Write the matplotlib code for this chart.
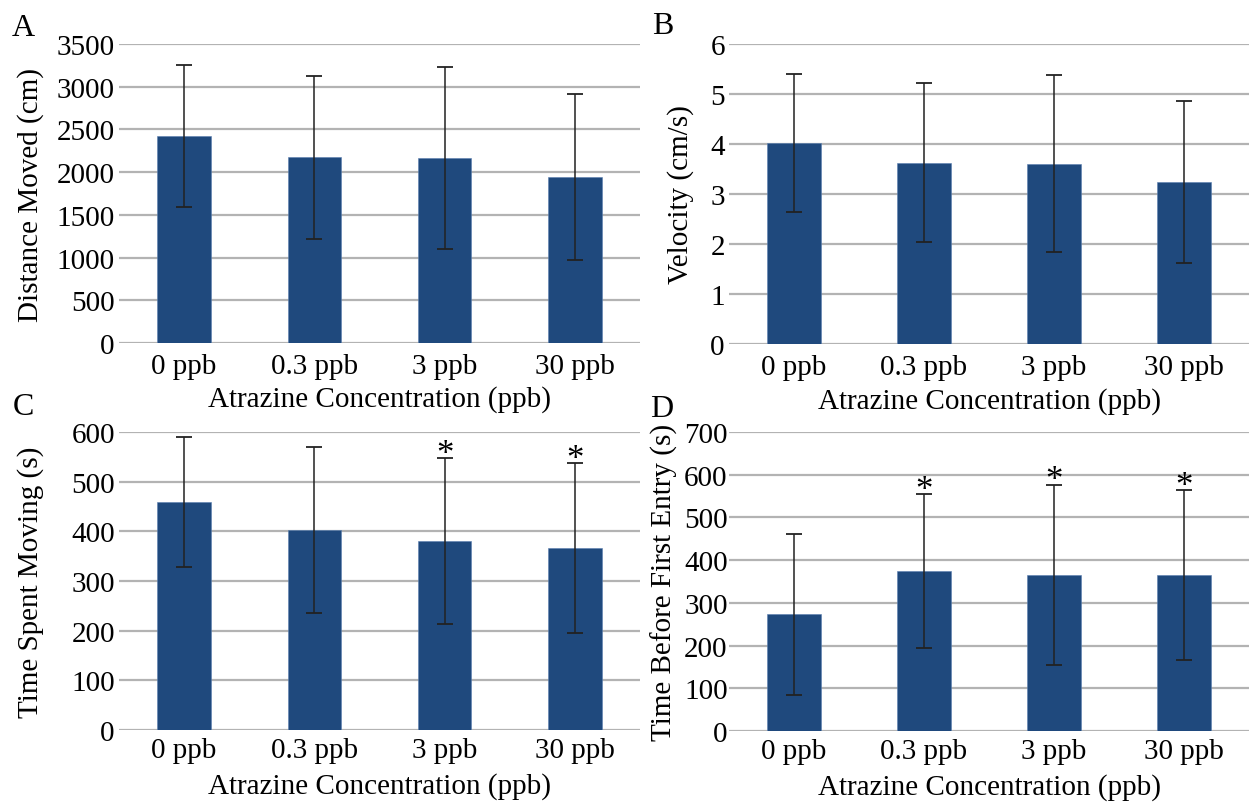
"""Four-panel bar chart of locomotor measures vs. atrazine concentration (mean ± SD)."""

import matplotlib
matplotlib.use("Agg")
import matplotlib.pyplot as plt

plt.rcParams["font.family"] = ["Liberation Serif", "DejaVu Serif"]

concentrations = ["0 ppb", "0.3 ppb", "3 ppb", "30 ppb"]

distance_mean = [2420, 2175, 2160, 1945]
distance_err = [830, 955, 1065, 975]

velocity_mean = [4.03, 3.63, 3.61, 3.25]
velocity_err = [1.38, 1.59, 1.77, 1.62]

moving_mean = [459, 403, 380, 366]
moving_err = [130, 167, 167, 171]

entry_mean = [273, 374, 366, 366]
entry_err = [189, 180, 211, 199]

# significance markers (True = asterisk above the bar)
moving_sig = [False, False, True, True]
entry_sig = [False, True, True, True]

BAR_COLOR = "#1F497D"
GRID_COLOR = "#b3b3b3"
FS = 21

W, H = 1256, 804


def px_rect(x0, y0, x1, y1):
    """Pixel box (top-left origin) -> figure-fraction rect."""
    return [x0 / W, 1 - y1 / H, (x1 - x0) / W, (y1 - y0) / H]


def bar_panel(ax, means, errs, ylabel, ymax, ystep, ylabel_x, letter, letter_xy,
              sig=None, ytick_pad=3, xtick_pad=6):
    x = range(len(concentrations))
    ax.bar(x, means, width=0.41, color=BAR_COLOR, edgecolor="#5b7fb0", linewidth=0.4, zorder=2)
    ax.errorbar(x, means, yerr=errs, fmt="none", ecolor="#222222", elinewidth=1.1,
                capsize=5.5, capthick=1.3, zorder=3)
    if sig is not None:
        for i, (m, e, s) in enumerate(zip(means, errs, sig)):
            if s:
                ax.annotate("*", xy=(i, m + e), xytext=(0, -3.5), textcoords="offset points",
                            ha="center", va="baseline", fontsize=25, zorder=4)

    ax.set_xlim(-0.5, len(concentrations) - 0.5)
    ax.set_ylim(0, ymax)
    ax.set_yticks([v * ystep for v in range(int(round(ymax / ystep)) + 1)])
    ax.set_xticks(list(x))
    ax.set_xticklabels(concentrations)
    ax.tick_params(axis="both", length=0, labelsize=FS)
    ax.tick_params(axis="y", pad=ytick_pad)
    ax.tick_params(axis="x", pad=xtick_pad)
    ax.grid(axis="y", color=GRID_COLOR, linewidth=1.6)
    ax.set_axisbelow(True)
    for sp in ax.spines.values():
        sp.set_visible(False)

    ax.set_ylabel(ylabel, fontsize=FS)
    ax.yaxis.label.set_verticalalignment("center")
    ax.yaxis.set_label_coords(ylabel_x, 0.5)
    ax.set_xlabel("Atrazine Concentration (ppb)", fontsize=FS)
    ax.xaxis.label.set_verticalalignment("center")
    ax.xaxis.set_label_coords(0.5, -56 / 299)

    fig.text(letter_xy[0] / W, 1 - letter_xy[1] / H, letter, fontsize=FS + 2,
             ha="center", va="center")


fig = plt.figure(figsize=(W / 100, H / 100), dpi=100)

ax_a = fig.add_axes(px_rect(119, 45, 640, 344))
ax_b = fig.add_axes(px_rect(729, 45, 1249, 345))
ax_c = fig.add_axes(px_rect(119, 433, 640, 731))
ax_d = fig.add_axes(px_rect(729, 433, 1249, 732))

bar_panel(ax_a, distance_mean, distance_err, "Distance Moved (cm)", 3500, 500,
          (31 - 119) / 521, "A", (23, 28), xtick_pad=7)
bar_panel(ax_b, velocity_mean, velocity_err, "Velocity (cm/s)", 6, 1,
          (681 - 729) / 520, "B", (663, 26), xtick_pad=7)
bar_panel(ax_c, moving_mean, moving_err, "Time Spent Moving (s)", 600, 100,
          (31 - 119) / 521, "C", (23, 408), sig=moving_sig, xtick_pad=5)
bar_panel(ax_d, entry_mean, entry_err, "Time Before First Entry (s)", 700, 100,
          (664 - 729) / 520, "D", (662, 410), sig=entry_sig, ytick_pad=1, xtick_pad=5)

fig.savefig("out.png", dpi=100)
